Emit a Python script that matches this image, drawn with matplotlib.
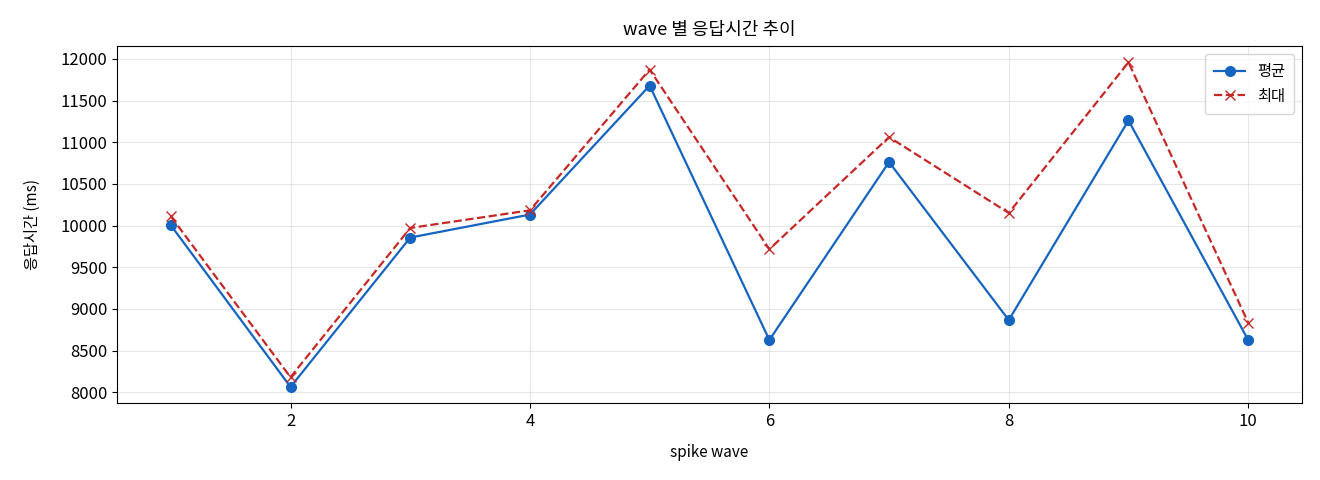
import numpy as np
import matplotlib
matplotlib.use('Agg')
import matplotlib.pyplot as plt

plt.rcParams['font.family'] = ['Noto Sans CJK KR', 'DejaVu Sans']
plt.rcParams['axes.unicode_minus'] = False

# data
waves = [1, 2, 3, 4, 5, 6, 7, 8, 9, 10]
avg_ms = [10004, 8063, 9856, 10132, 11680, 8627, 10762, 8866, 11261, 8627]
max_ms = [10111, 8180, 9971, 10183, 11872, 9716, 11061, 10151, 11959, 8834]

fig, ax = plt.subplots(figsize=(13.2, 4.8), dpi=100)
ax.plot(waves, avg_ms, marker='o', color='#1565C0', linewidth=1.6, markersize=7, label='평균')
ax.plot(waves, max_ms, marker='x', linestyle='--', color='#C62828', linewidth=1.6, markersize=7, label='최대')

ax.set_title('wave 별 응답시간 추이', fontsize=13, pad=8)
ax.set_xlabel('spike wave', fontsize=11, labelpad=10)
ax.set_ylabel('응답시간 (ms)', fontsize=11, labelpad=14)
ax.tick_params(labelsize=12)
ax.grid(True, alpha=0.3)
ax.legend(loc='upper right', fontsize=11, borderpad=0.6)

fig.subplots_adjust(left=0.0886, right=0.9864, top=0.904, bottom=0.160)
plt.savefig('out.png')
